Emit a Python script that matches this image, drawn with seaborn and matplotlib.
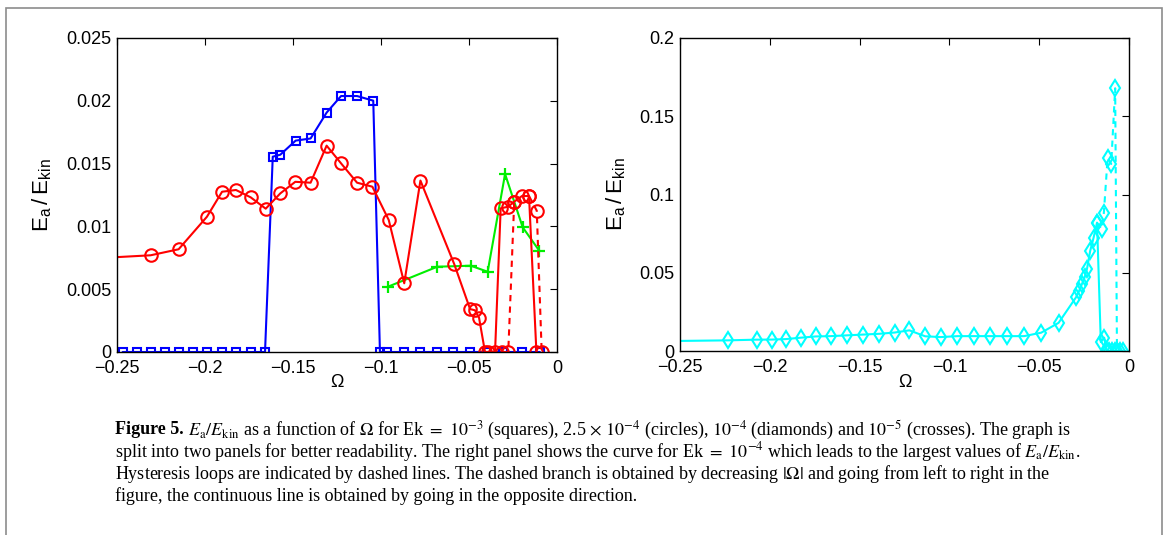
import numpy as np
import pandas as pd
import matplotlib
matplotlib.use("Agg")
import matplotlib.pyplot as plt
import seaborn as sns
from matplotlib.patches import Rectangle

# ---------------- data ----------------
# Ek = 1e-3 (squares, blue)
sq_x = [-0.2468, -0.2388, -0.2309, -0.2227, -0.2148, -0.2066, -0.1987, -0.1905, -0.1824, -0.1740, -0.1659,
        -0.1615, -0.1572, -0.1485, -0.1400, -0.1309, -0.1227, -0.1136, -0.1044,
        -0.1006, -0.0964, -0.0869, -0.0778, -0.0684, -0.0589, -0.0494, -0.0400, -0.0305, -0.0201, -0.0097]
sq_y = [0, 0, 0, 0, 0, 0, 0, 0, 0, 0, 0,
        0.01555, 0.01571, 0.01683, 0.0170, 0.01906, 0.02038, 0.02038, 0.02001,
        0, 0, 0, 0, 0, 0, 0, 0, 0, 0, 0]

# Ek = 2.5e-4 (circles, red) continuous branch
ci_x = [-0.270, -0.2309, -0.2150, -0.1989, -0.1903, -0.1824, -0.1740, -0.1655, -0.1572, -0.1487, -0.1400,
        -0.1309, -0.1227, -0.1136, -0.1049, -0.0956, -0.0868, -0.0776, -0.0584, -0.0494, -0.0466, -0.0443,
        -0.0409, -0.0390, -0.0352, -0.0320, -0.0277, -0.0243, -0.0199, -0.0159, -0.0117]
ci_y = [0.0074, 0.0077, 0.00818, 0.01077, 0.01276, 0.0129, 0.01231, 0.01141, 0.01263, 0.01355, 0.01348,
        0.01643, 0.01502, 0.01348, 0.01316, 0.01051, 0.00547, 0.01365, 0.0070, 0.00342, 0.00332, 0.00273,
        0, 0, 0, 0.01144, 0.01157, 0.01197, 0.01242, 0.01242, 0]
# circles, dashed branches (hysteresis)
ci_d1_x = [-0.0314, -0.0277, -0.0243]
ci_d1_y = [0, 0, 0.01197]
ci_d2_x = [-0.0159, -0.0115, -0.0087]
ci_d2_y = [0.01242, 0.01125, 0]

# Ek = 1e-5 (crosses, green)
cr_x = [-0.0960, -0.0680, -0.0490, -0.0394, -0.0295, -0.0195, -0.0101]
cr_y = [0.0052, 0.00679, 0.00687, 0.00639, 0.01417, 0.00993, 0.00807]

# Ek = 1e-4 (diamonds, cyan) continuous branch
di_x = [-0.2600, -0.2235, -0.2074, -0.1990, -0.1912, -0.1828, -0.1745, -0.1661, -0.1570, -0.1480, -0.1390,
        -0.1305, -0.1223, -0.1135, -0.1048, -0.0955, -0.0862, -0.0773, -0.0680, -0.0584, -0.0489, -0.0392,
        -0.0295, -0.0277, -0.0262, -0.0247, -0.0234, -0.0216, -0.0197, -0.0178, -0.0157, -0.0138,
        -0.0125, -0.0110, -0.0095, -0.0080, -0.0065, -0.0050, -0.0035]
di_y = [0.0063, 0.0068, 0.00725, 0.0073, 0.0076, 0.0085, 0.0093, 0.0095, 0.0100, 0.0105, 0.0110,
        0.0118, 0.0132, 0.0094, 0.0089, 0.0095, 0.0095, 0.0095, 0.0095, 0.0095, 0.0117, 0.0180,
        0.0343, 0.0386, 0.0428, 0.0470, 0.0524, 0.0640, 0.0725, 0.0820, 0.0057, 0.0085,
        0, 0, 0, 0, 0, 0, 0]
# diamonds, dashed branch
di_d_x = [-0.0178, -0.0152, -0.0140, -0.0119, -0.0099, -0.0077, -0.0067]
di_d_y = [0.0820, 0.0780, 0.0884, 0.1233, 0.1195, 0.1679, 0]

left_xticks = [-0.25, -0.2, -0.15, -0.1, -0.05, 0]
left_xticklabels = ["\u22120.25", "\u22120.2", "\u22120.15", "\u22120.1", "\u22120.05", "0"]
left_yticks = [0, 0.005, 0.01, 0.015, 0.02, 0.025]
left_yticklabels = ["0", "0.005", "0.01", "0.015", "0.02", "0.025"]
right_yticks = [0, 0.05, 0.1, 0.15, 0.2]
right_yticklabels = ["0", "0.05", "0.1", "0.15", "0.2"]

caption_bold = "Figure 5."
caption_lines = [
    r" $E_{\rm a}/E_{\rm kin}$ as a function of $\Omega$ for Ek $=$ $10^{-3}$ (squares), 2.5 $\times$ $10^{-4}$ (circles), $10^{-4}$ (diamonds) and $10^{-5}$ (crosses). The graph is",
    r"split into two panels for better readability. The right panel shows the curve for Ek $=$ $10^{-4}$ which leads to the largest values of $E_{\rm a}/E_{\rm kin}$.",
    r"Hysteresis loops are indicated by dashed lines. The dashed branch is obtained by decreasing $|\Omega|$ and going from left to right in the",
    r"figure, the continuous line is obtained by going in the opposite direction.",
]

# ---------------- plotting ----------------
sns.set_theme(style="white")
plt.rcParams["font.family"] = ["Liberation Sans", "DejaVu Sans"]

W, H = 1168, 535
fig = plt.figure(figsize=(W / 100, H / 100), dpi=100)

def px_axes(x0, y0, x1, y1):
    return fig.add_axes([x0 / W, 1 - y1 / H, (x1 - x0) / W, (y1 - y0) / H])

axL = px_axes(117, 38, 557, 352)
axR = px_axes(680, 38, 1129, 351)

BLUE, RED, GREEN, CYAN = "#0000ff", "#ff0000", "#00ee00", "#00ffff"

def line(ax, x, y, color, marker, ms, ls="-", mew=1.5):
    sns.lineplot(x=x, y=y, ax=ax, sort=False, estimator=None, color=color, linestyle=ls,
                 linewidth=1.5, marker=marker, markersize=ms, markerfacecolor="none",
                 markeredgecolor=color, markeredgewidth=mew, clip_on=True)

line(axL, sq_x, sq_y, BLUE, "s", 6.3)
line(axL, cr_x, cr_y, GREEN, "+", 8.5, mew=1.6)
line(axL, ci_x, ci_y, RED, "o", 9)
line(axL, ci_d1_x, ci_d1_y, RED, "o", 9, ls=(0, (3, 2.5)))
line(axL, ci_d2_x, ci_d2_y, RED, "o", 9, ls=(0, (3, 2.5)))

line(axR, di_x, di_y, CYAN, "d", 8.5)
line(axR, di_d_x, di_d_y, CYAN, "d", 8.5, ls=(0, (3, 2.5)))

for ax, yt, ytl, ylim in [(axL, left_yticks, left_yticklabels, (0, 0.025)),
                           (axR, right_yticks, right_yticklabels, (0, 0.2))]:
    ax.set_xlim(-0.25, 0)
    ax.set_ylim(*ylim)
    ax.set_xticks(left_xticks)
    ax.set_xticklabels(left_xticklabels)
    ax.set_yticks(yt)
    ax.set_yticklabels(ytl)
    ax.tick_params(direction="in", length=5, width=0.8, top=True, right=True,
                   labelsize=13, colors="black", pad=4)
    ax.tick_params(axis="x", pad=6)
    for s in ax.spines.values():
        s.set_visible(True)
        s.set_color("black")
        s.set_linewidth(1.0)
    ax.set_facecolor("white")
    ax.grid(False)
    ax.set_xlabel("\u03a9", fontsize=13, color="black")
    ax.set_ylabel(r"$\mathregular{E_a\,/\,E_{kin}}$", fontsize=16, color="black")

axL.yaxis.set_label_coords((54 - 117) / 440, 0.5)
axR.yaxis.set_label_coords((628 - 680) / 449, 0.5)
axL.xaxis.set_label_coords(0.5, -(374 - 352) / 314)
axR.xaxis.set_label_coords(0.5, -(374 - 351) / 313)

# frame around figure
fig.add_artist(Rectangle((6 / W, -0.02), (1162 - 6) / W, 1 - 8 / H + 0.02, transform=fig.transFigure,
                         fill=False, edgecolor="#8c8c8c", linewidth=1.2, clip_on=False))

# caption
cap_fs = 13
serif = ["Liberation Serif", "DejaVu Serif"]
x0 = 115 / W
ys = [430, 452, 474, 496]
tb = fig.text(x0, 1 - ys[0] / H, caption_bold, fontsize=cap_fs, fontweight="bold",
              family=serif, va="center", ha="left", color="black")
renderer = fig.canvas.get_renderer()
bb = tb.get_window_extent(renderer)
fig.text(bb.x1 / W, 1 - ys[0] / H, caption_lines[0], fontsize=cap_fs, family=serif,
         math_fontfamily="stix", va="center", ha="left", color="black")
for txt, yy in zip(caption_lines[1:], ys[1:]):
    fig.text(x0, 1 - yy / H, txt, fontsize=cap_fs, family=serif, math_fontfamily="stix",
             va="center", ha="left", color="black")

fig.savefig("out.png", dpi=100, facecolor="white")
